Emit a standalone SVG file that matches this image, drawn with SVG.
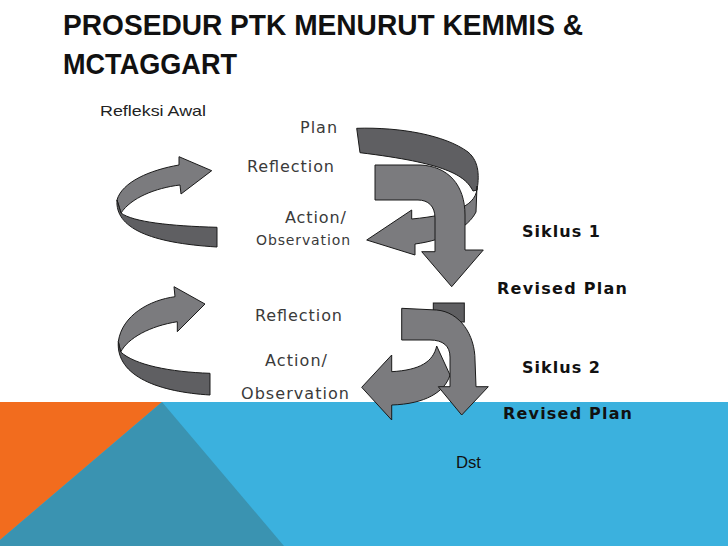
<svg xmlns="http://www.w3.org/2000/svg" width="728" height="546" viewBox="0 0 728 546">
<style>
.lt{fill:#7b7b7e;stroke:#1a1a1a;stroke-width:1;stroke-linejoin:miter}
.dk{fill:#5f5f62;stroke:#1a1a1a;stroke-width:1}
.lbl{font-family:"DejaVu Sans",sans-serif;fill:#3a3a3a}
.bl{font-family:"DejaVu Sans",sans-serif;font-weight:bold;fill:#111}
.ttl{font-family:"Liberation Sans",sans-serif;font-weight:bold;fill:#111;font-size:30px}
</style>
<rect width="728" height="546" fill="#ffffff"/>
<g id="background">
<rect x="0" y="402" width="728" height="144" fill="#3bb1de"/>
<polygon points="0,402 162,402 0,540" fill="#f26c1e"/>
<polygon points="162,402 284,546 0,546 0,540" fill="#3a93b1"/>
</g>
<g id="title">
<text class="ttl" x="63" y="35" textLength="520" lengthAdjust="spacingAndGlyphs">PROSEDUR PTK MENURUT KEMMIS &amp;</text>
<text class="ttl" x="63" y="74" textLength="174" lengthAdjust="spacingAndGlyphs">MCTAGGART</text>
</g>
<g id="connectors">
<g id="cycle1-left">
<path class="lt" d="M179,156.7 L211.7,170.7 L181,194 L180,185 C155,188 131,198 121,213 L117,200 C122,182 150,170 179,165 Z"/>
<path class="dk" d="M117,200 C115,228 150,243 217,247 L217,227.3 C170,226 133,222 121,213 Z"/>
</g>
<g id="cycle2-left">
<path class="lt" d="M174,286.7 L205,304 L177.3,331.7 L177.3,321.7 C150,326 128,338 120.7,352 L118.3,341.7 C122,315 150,300 175,296.7 Z"/>
<path class="dk" d="M118.3,341.7 C116,377 160,392 210,395 L210,373.3 C170,372 135,365 120.7,352 Z"/>
</g>
<g id="cycle1-center">
<path class="dk" d="M356.7,128.3 C400,127 445,135 468,152 C480,162 479,178 477,190 L473,191 C465,175 445,163 360,152.7 Z"/>
<path class="lt" d="M477,186 C478,205 455,215 411.7,219 L411.7,210 L366.7,240 L415,255 L415,244 C445,240 468,228 476,212 Z"/>
<path class="lt" d="M375,165 L420,165 C448,166 465,185 465,215 L465,250 L483.3,250 L451.7,286.7 L421.7,251.7 L435,251.7 L435,218 C435,206 428,200 418,200 L375,200 Z"/>
</g>
<g id="cycle2-center">
<rect class="dk" x="433.3" y="303" width="31" height="19"/>
<path class="lt" d="M436.7,346 C433,362 420,370 391.7,371.7 L391.7,355 L361.7,387.3 L391.7,420 L391.7,405 C425,404 445,392 450,375 Z"/>
<path class="lt" d="M401.7,308.3 L436.7,310 C460,312 475,335 475,360 L476,386.7 L488.3,386.7 L461.7,415 L438.3,386.7 L450,386.7 L450,357 C450,346 443,340 430,340 L401.7,340 Z"/>
</g>
</g>
<g id="refleksi-awal"><text x="100" y="116" font-family="Liberation Sans, sans-serif" font-size="15" fill="#222" textLength="106" lengthAdjust="spacingAndGlyphs">Refleksi Awal</text></g>
<g id="plan"><text class="lbl" x="300" y="133" font-size="16" letter-spacing="1">Plan</text></g>
<g id="reflection1"><text class="lbl" x="247" y="172" font-size="16" textLength="87">Reflection</text></g>
<g id="action1">
<text class="lbl" x="285" y="223" font-size="16" textLength="61">Action/</text>
<text class="lbl" x="256" y="245" font-size="14" textLength="94">Observation</text>
</g>
<g id="siklus1"><text class="bl" x="522" y="237" font-size="16" textLength="78">Siklus 1</text></g>
<g id="revised1"><text class="bl" x="497" y="294" font-size="16" textLength="130">Revised Plan</text></g>
<g id="reflection2"><text class="lbl" x="255" y="321" font-size="16" textLength="87">Reflection</text></g>
<g id="action2">
<text class="lbl" x="265" y="366" font-size="16" textLength="62">Action/</text>
<text class="lbl" x="241" y="399" font-size="16" textLength="108">Observation</text>
</g>
<g id="siklus2"><text class="bl" x="522" y="373" font-size="16" textLength="78">Siklus 2</text></g>
<g id="revised2"><text class="bl" x="503" y="419" font-size="16" textLength="129">Revised Plan</text></g>
<g id="dst"><text x="456" y="468" font-family="Liberation Sans, sans-serif" font-size="16" fill="#111" textLength="25" lengthAdjust="spacingAndGlyphs">Dst</text></g>
</svg>
